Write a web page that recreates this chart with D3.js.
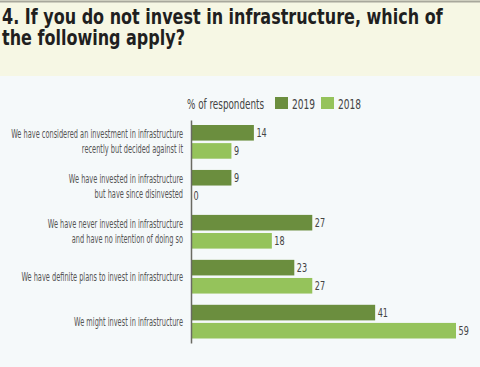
<!DOCTYPE html>
<html><head><meta charset="utf-8">
<script src="https://cdn.jsdelivr.net/npm/d3@7"></script>
<style>
html,body{margin:0;padding:0;background:#f5f9fa;}
svg{display:block;}
</style></head>
<body>
<script>
const titleLines = ["4. If you do not invest in infrastructure, which of", "the following apply?"];
const categories = [
  ["We have considered an investment in infrastructure", "recently but decided against it"],
  ["We have invested in infrastructure", "but have  since disinvested"],
  ["We have never invested in infrastructure", "and have no intention of doing so"],
  ["We have definite plans to invest in infrastructure"],
  ["We might invest in infrastructure"]
];
const seriesNames = ["2019", "2018"];
const values2019 = [14, 9, 27, 23, 41];
const values2018 = [9, 0, 18, 27, 59];
const legendTitle = "% of respondents";
const colors = {"2019": "#6b8e3e", "2018": "#95c35b"};

const W = 480, H = 367;
const svg = d3.select("body").append("svg").attr("width", W).attr("height", H);

// backgrounds
svg.append("rect").attr("x",0).attr("y",0).attr("width",W).attr("height",H).attr("fill","#f5f9fa");
svg.append("rect").attr("x",0).attr("y",0).attr("width",W).attr("height",76).attr("fill","#f6f7e4");
svg.append("line").attr("x1",0).attr("x2",W).attr("y1",1.5).attr("y2",1.5).attr("stroke","#a8a89c").attr("stroke-width",2);

const condensed = "'DejaVu Sans Condensed','DejaVu Sans',sans-serif";

// title (one text element, two lines)
const title = svg.append("text")
  .attr("transform","translate(2,24) scale(0.868,1)")
  .attr("font-family",condensed).attr("font-weight","bold").attr("font-stretch","condensed")
  .attr("font-size",20.5).attr("fill","#1f1f1f");
titleLines.forEach((t,i)=>{
  title.append("tspan").attr("x",0).attr("y",i*21).text(t);
});

const idx = d3.range(categories.length);
const x = d3.scaleLinear().domain([0,59]).range([191,456]);
const y0 = d3.scaleBand().domain(idx).range([120.5,343]).paddingInner(0.25).paddingOuter(0.1);
const y1 = d3.scaleBand().domain(seriesNames).range([0,y0.bandwidth()]).paddingInner(0.14);

const data = idx.map(i=>({i, vals:[{k:"2019",v:values2019[i]},{k:"2018",v:values2018[i]}]}));

const g = svg.append("g");
const groups = g.selectAll("g.grp").data(data).join("g").attr("class","grp")
  .attr("transform",d=>`translate(0,${y0(d.i)})`);

groups.selectAll("rect").data(d=>d.vals).join("rect")
  .attr("x",x(0)).attr("y",d=>y1(d.k)).attr("height",y1.bandwidth())
  .attr("width",d=>x(d.v)-x(0)).attr("fill",d=>colors[d.k]);

groups.selectAll("text.val").data(d=>d.vals).join("text").attr("class","val")
  .attr("transform",d=>`translate(${x(d.v)+2.5},${y1(d.k)+y1.bandwidth()/2+4.2}) scale(0.72,1)`)
  .attr("font-family",condensed).attr("font-size",12.5).attr("fill","#444")
  .text(d=>d.v);

// category labels
data.forEach(d=>{
  const lines = categories[d.i];
  const cy = y0(d.i) + y0.bandwidth()/2;
  lines.forEach((ln,j)=>{
    const off = (j - (lines.length-1)/2) * 14.8;
    svg.append("text")
      .attr("transform",`translate(183,${cy+off+4}) scale(0.639,1)`)
      .attr("text-anchor","end")
      .attr("font-family",condensed).attr("font-size",11.5).attr("fill","#555")
      .text(ln);
  });
});

// axis line
const axis = d3.axisLeft(d3.scaleLinear().range([120,343])).ticks(0).tickSize(0).tickFormat("");
svg.append("g").attr("transform",`translate(${x(0)},0)`).call(axis)
  .call(s=>s.select(".domain").attr("stroke","#6a6a62").attr("stroke-width",1.5));

// legend
const leg = svg.append("g");
leg.append("text").attr("transform","translate(187,108.5) scale(0.7,1)")
  .attr("font-family",condensed).attr("font-size",14).attr("fill","#444").text(legendTitle);
const legX = {"2019":275, "2018":321};
seriesNames.forEach(k=>{
  leg.append("rect").attr("x",legX[k]).attr("y",97).attr("width",13).attr("height",12).attr("fill",colors[k]);
  leg.append("text").attr("transform",`translate(${legX[k]+17},108.5) scale(0.72,1)`)
    .attr("font-family",condensed).attr("font-size",14).attr("fill","#444").text(k);
});
</script>
</body></html>
